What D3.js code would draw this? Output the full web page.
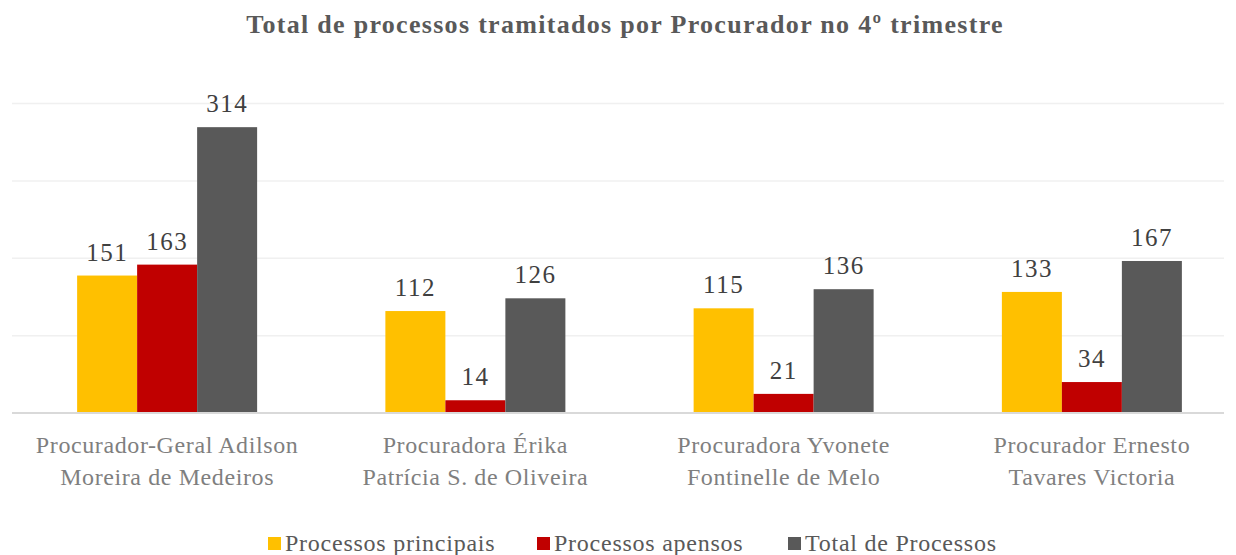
<!DOCTYPE html>
<html>
<head>
<meta charset="utf-8">
<script src="https://cdn.jsdelivr.net/npm/d3@7"></script>
<style>
  body { margin: 0; background: #fff; }
  svg text { font-family: "Liberation Serif", "DejaVu Serif", serif; }
</style>
</head>
<body>
<svg id="chart" width="1236" height="555"></svg>
<script>
// dados
const procuradores = [
  ["Procurador-Geral Adilson", "Moreira de Medeiros"],
  ["Procuradora Érika", "Patrícia S. de Oliveira"],
  ["Procuradora Yvonete", "Fontinelle de Melo"],
  ["Procurador Ernesto", "Tavares Victoria"]
];
const series = ["Processos principais", "Processos apensos", "Total de Processos"];
const principais = [151, 112, 115, 133];
const apensos = [163, 14, 21, 34];
const total = [314, 126, 136, 167];
const gridTicks = [0, 85, 170, 255, 340];

const cores = ["#FFC000", "#C00000", "#595959"];
const valores = [principais, apensos, total];

const svg = d3.select("#chart");
const width = 1236;

const x0 = d3.scaleBand()
  .domain(d3.range(procuradores.length))
  .range([13, 1246]);

const x1 = d3.scaleBand()
  .domain(d3.range(series.length))
  .range([0, 180]);

const y = d3.scaleLinear()
  .domain([0, 340])
  .range([413, 103.5]);

// titulo
svg.append("text")
  .attr("x", 625)
  .attr("y", 33)
  .attr("text-anchor", "middle")
  .attr("font-size", 26)
  .attr("font-weight", "bold")
  .attr("fill", "#595959")
  .attr("letter-spacing", 1.3)
  .text("Total de processos tramitados por Procurador no 4º trimestre");

// linhas de grade
svg.append("g")
  .selectAll("line")
  .data(gridTicks.slice(1))
  .join("line")
  .attr("x1", 12)
  .attr("x2", 1224)
  .attr("y1", d => y(d))
  .attr("y2", d => y(d))
  .attr("stroke", "#f0f0f0")
  .attr("stroke-width", 1.5);

// barras
const grupos = svg.append("g")
  .selectAll("g")
  .data(procuradores)
  .join("g")
  .attr("transform", (d, i) => "translate(" + (x0(i) + x0.bandwidth() / 2 - 90) + ",0)");

grupos.selectAll("rect")
  .data((d, i) => series.map((s, j) => ({ j: j, v: valores[j][i] })))
  .join("rect")
  .attr("x", d => x1(d.j))
  .attr("y", d => y(d.v))
  .attr("width", x1.bandwidth())
  .attr("height", d => y(0) - y(d.v))
  .attr("fill", d => cores[d.j]);

grupos.selectAll("text.val")
  .data((d, i) => series.map((s, j) => ({ j: j, v: valores[j][i] })))
  .join("text")
  .attr("class", "val")
  .attr("x", d => x1(d.j) + x1.bandwidth() / 2)
  .attr("y", d => y(d.v) - 15)
  .attr("text-anchor", "middle")
  .attr("font-size", 25)
  .attr("letter-spacing", 1.5)
  .attr("fill", "#404040")
  .text(d => d.v);

// eixo base
svg.append("line")
  .attr("x1", 12)
  .attr("x2", 1224)
  .attr("y1", y(0))
  .attr("y2", y(0))
  .attr("stroke", "#d9d9d9")
  .attr("stroke-width", 2);

// rotulos das categorias
const rot = svg.append("g")
  .selectAll("text")
  .data(procuradores)
  .join("text")
  .attr("text-anchor", "middle")
  .attr("font-size", 24)
  .attr("letter-spacing", 0.6)
  .attr("fill", "#7f7f7f")
  .attr("transform", (d, i) => "translate(" + (x0(i) + x0.bandwidth() / 2) + ",0)");

rot.selectAll("tspan")
  .data(d => d)
  .join("tspan")
  .attr("x", 0)
  .attr("y", (d, k) => 453 + k * 32)
  .text(d => d);

// legenda
const legX = [268, 537, 788];
const leg = svg.append("g")
  .selectAll("g")
  .data(series)
  .join("g")
  .attr("transform", (d, i) => "translate(" + legX[i] + ",0)");

leg.append("rect")
  .attr("x", 0)
  .attr("y", 537)
  .attr("width", 13)
  .attr("height", 13)
  .attr("fill", (d, i) => cores[i]);

leg.append("text")
  .attr("x", 17)
  .attr("y", 551)
  .attr("font-size", 24)
  .attr("letter-spacing", 0.75)
  .attr("fill", "#595959")
  .text(d => d);
</script>
</body>
</html>
